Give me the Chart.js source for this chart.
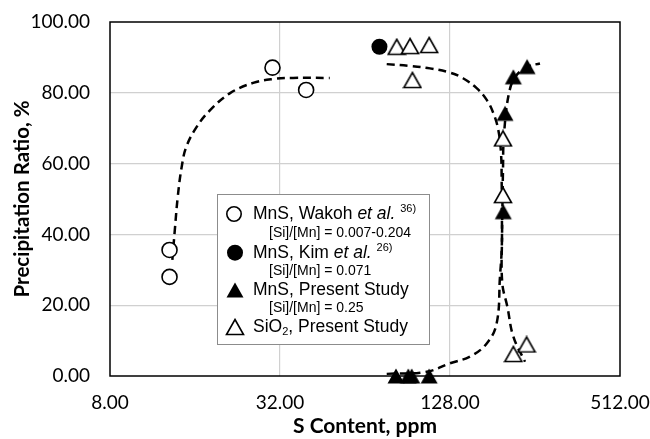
<!DOCTYPE html>
<html>
<head>
<meta charset="utf-8">
<script src="https://cdn.jsdelivr.net/npm/chart.js@4.4.1/dist/chart.umd.min.js"></script>
<style>
html,body{margin:0;padding:0;background:#fff;}
#wrap{width:650px;height:439px;}
</style>
</head>
<body>
<div id="wrap"><canvas id="c" width="650" height="439"></canvas></div>
<script>
// ---- data ----
const xTicks = [8, 32, 128, 512];
const yTicks = [0, 20, 40, 60, 80, 100];

const wakohX = [13.0, 13.0, 30.1, 39.6];
const wakohY = [35.6, 28.0, 87.1, 80.8];

const kimX = [72];
const kimY = [93.0];

const mnsX = [82.4, 91.1, 93.7, 108, 197.7, 200.5, 214.6, 240];
const mnsY = [0, 0, 0, 0, 46.4, 74.2, 84.5, 87.4];

const sio2X = [82.9, 92.4, 108, 94.2, 197.2, 197.2, 214.6, 239];
const sio2Y = [93.0, 93.2, 93.5, 83.6, 67.1, 51.1, 6.2, 8.9];

const wakohFitX = [13.3, 13.6, 13.9, 14.35, 14.9, 16.2, 18.1, 21.3, 25.7, 30.3, 35.6, 48.0];
const wakohFitY = [32.8, 42.1, 50.6, 59.0, 64.7, 70.3, 75.1, 79.9, 82.8, 83.9, 84.2, 84.2];

const sio2FitX = [76.4, 92.4, 108.7, 128, 142.3, 159.1, 172.7, 182.2, 189.8, 194.0, 195.1, 195.6, 196, 204.3, 214.6, 236];
const sio2FitY = [88.1, 87.6, 86.9, 85.7, 84.1, 81.3, 78.0, 74.3, 69.5, 63.0, 54.5, 40.4, 26.3, 19.6, 11.1, 4.0];

const mnsFitX = [76.4, 105.8, 128, 150.7, 172.7, 187.3, 192.4, 195.1, 196, 197.2, 198.8, 207.6, 220.5, 242, 266.6];
const mnsFitY = [0.6, 1.2, 3.6, 5.5, 9.2, 14.9, 28.1, 35.6, 45, 58.2, 68.1, 80.3, 85.0, 87.4, 88.3];

const toPts = (xs, ys) => xs.map((x, i) => ({x: x, y: ys[i]}));

// triangle marker images centred on their bounding box
function triImg(filled) {
  const c = document.createElement('canvas');
  c.width = 20; c.height = 18;
  const g = c.getContext('2d');
  g.beginPath();
  g.moveTo(10, 1.5); g.lineTo(18.5, 16.5); g.lineTo(1.5, 16.5); g.closePath();
  if (filled) { g.fillStyle = '#000'; g.fill(); }
  else { g.fillStyle = '#fff'; g.fill(); g.lineWidth = 1.6; g.strokeStyle = '#000'; g.stroke(); }
  return c;
}
const triFilled = triImg(true);
const triOpen = triImg(false);

const frame = {
  id: 'frame',
  beforeDatasetsDraw(chart) {
    const a = chart.chartArea, ctx = chart.ctx;
    ctx.save();
    ctx.strokeStyle = '#000'; ctx.lineWidth = 1.5;
    ctx.strokeRect(a.left, a.top, a.right - a.left, a.bottom - a.top);
    ctx.restore();
  }
};

const legendBox = {
  id: 'legendBox',
  afterDatasetsDraw(chart) {
    const ctx = chart.ctx;
    const L = 217, T = 194, W = 212, H = 150;
    ctx.save();
    ctx.fillStyle = '#fff';
    ctx.fillRect(L, T, W, H);
    ctx.strokeStyle = '#8c8c8c'; ctx.lineWidth = 1;
    ctx.strokeRect(L + 0.5, T + 0.5, W, H);
    const F = '"Liberation Sans", Arial, sans-serif';
    const sx = 235, tx = 253, subx = 269;
    ctx.fillStyle = '#000'; ctx.textBaseline = 'middle'; ctx.textAlign = 'left';
    function seg(parts, x, y) {
      parts.forEach(p => {
        ctx.font = p.f;
        ctx.fillText(p.t, x, y + (p.dy || 0));
        x += ctx.measureText(p.t).width;
      });
    }
    const n17 = '17.5px ' + F, i17 = 'italic 17.5px ' + F, s11 = '11px ' + F, n14 = '14px ' + F;
    // symbols
    ctx.lineWidth = 1.6; ctx.strokeStyle = '#000';
    ctx.beginPath(); ctx.arc(sx - 1, 214, 7.2, 0, Math.PI * 2); ctx.fillStyle = '#fff'; ctx.fill(); ctx.stroke();
    ctx.beginPath(); ctx.arc(sx, 252.7, 8, 0, Math.PI * 2); ctx.fillStyle = '#000'; ctx.fill();
    ctx.drawImage(triFilled, sx - 10, 290 - 9);
    ctx.drawImage(triOpen, sx - 10, 327 - 9);
    ctx.fillStyle = '#000';
    seg([{t: 'MnS, Wakoh ', f: n17}, {t: 'et al.', f: i17}, {t: ' ', f: n17}, {t: '36)', f: s11, dy: -5}], tx, 214);
    seg([{t: '[Si]/[Mn] = 0.007-0.204', f: n14}], subx, 233.5);
    seg([{t: 'MnS, Kim ', f: n17}, {t: 'et al.', f: i17}, {t: ' ', f: n17}, {t: '26)', f: s11, dy: -5}], tx, 252.7);
    seg([{t: '[Si]/[Mn] = 0.071', f: n14}], subx, 271);
    seg([{t: 'MnS, Present Study', f: n17}], tx, 290);
    seg([{t: '[Si]/[Mn] = 0.25', f: n14}], subx, 308.5);
    seg([{t: 'SiO', f: n17}, {t: '2', f: s11, dy: 5}, {t: ', Present Study', f: n17}], tx, 327);
    ctx.restore();
  }
};

const fitStyle = {showLine: true, pointRadius: 0, borderColor: '#000', borderWidth: 2.5,
  borderDash: [8, 5], tension: 0.4, fill: false, clip: false};

new Chart(document.getElementById('c'), {
  type: 'scatter',
  data: {
    datasets: [
      {label: 'MnS, Wakoh et al.', data: toPts(wakohX, wakohY), pointStyle: 'circle', pointRadius: 7.5,
        pointBackgroundColor: '#fff', pointBorderColor: '#000', pointBorderWidth: 1.6, clip: false},
      {label: 'MnS, Kim et al.', data: toPts(kimX, kimY), pointStyle: 'circle', pointRadius: 8,
        pointBackgroundColor: '#000', pointBorderColor: '#000', pointBorderWidth: 0, clip: false},
      {label: 'MnS, Present Study', data: toPts(mnsX, mnsY), pointStyle: triFilled, clip: false},
      {label: 'SiO2, Present Study', data: toPts(sio2X, sio2Y), pointStyle: triOpen, clip: false},
      Object.assign({label: 'fit Wakoh', data: toPts(wakohFitX, wakohFitY)}, fitStyle),
      Object.assign({label: 'fit SiO2', data: toPts(sio2FitX, sio2FitY)}, fitStyle),
      Object.assign({label: 'fit MnS', data: toPts(mnsFitX, mnsFitY)}, fitStyle)
    ]
  },
  options: {
    responsive: false,
    animation: false,
    layout: {padding: {top: 22, right: 0, left: 0, bottom: 0}},
    plugins: {legend: {display: false}, tooltip: {enabled: false}},
    scales: {
      x: {
        type: 'logarithmic', min: 8, max: 512,
        afterBuildTicks: s => { s.ticks = xTicks.map(v => ({value: v})); },
        afterFit: s => { s.height = 63; s.paddingRight = 30; s.paddingLeft = 0; },
        ticks: {callback: v => Number(v).toFixed(2), color: '#000', font: {family: 'Lato', size: 19}, padding: 15, maxRotation: 0, autoSkip: false},
        grid: {color: c => (c.tick && (c.tick.value === 8 || c.tick.value === 512)) ? 'rgba(0,0,0,0)' : '#d0d0d0', lineWidth: 1.2, drawTicks: false},
        border: {display: false},
        title: {display: true, text: 'S Content, ppm', color: '#000', font: {family: 'Lato', size: 21, weight: 'bold'}, padding: {top: 0, bottom: 0}}
      },
      y: {
        min: 0, max: 100,
        afterBuildTicks: s => { s.ticks = yTicks.map(v => ({value: v})); },
        afterFit: s => { s.width = 110; s.paddingTop = 0; s.paddingBottom = 0; },
        ticks: {callback: v => Number(v).toFixed(2), color: '#000', font: {family: 'Lato', size: 19}, padding: 20},
        grid: {color: c => (c.tick && (c.tick.value === 0 || c.tick.value === 100)) ? 'rgba(0,0,0,0)' : '#d0d0d0', lineWidth: 1.2, drawTicks: false},
        border: {display: false},
        title: {display: true, text: 'Precipitation Ratio, %', color: '#000', font: {family: 'Lato', size: 20.5, weight: 'bold'}, padding: {top: 10, bottom: 0}}
      }
    }
  },
  plugins: [frame, legendBox]
});
</script>
</body>
</html>
